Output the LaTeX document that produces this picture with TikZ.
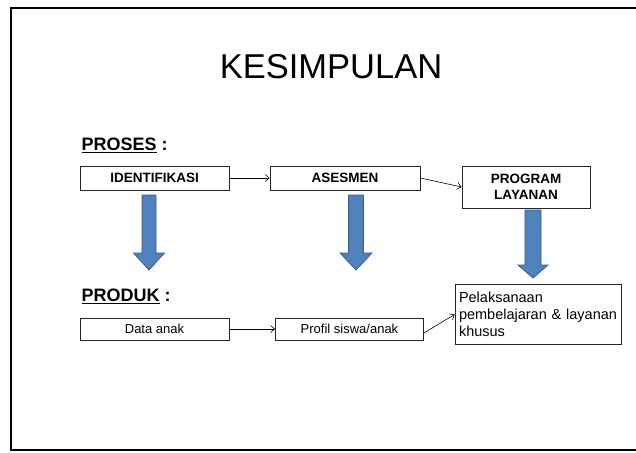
\documentclass[tikz,border=0pt]{standalone}
\usepackage{fontspec}
\setmainfont{Liberation Sans}
\usetikzlibrary{arrows.meta, positioning}
\usepackage{xcolor}
\definecolor{arrowblue}{HTML}{4F81BD}
\definecolor{arrowedge}{HTML}{385D8A}

\begin{document}
\begin{tikzpicture}[
x=1pt, y=-1pt,
box/.style={draw=black!85,
line width=0.8pt,
rectangle,
inner sep=2pt,
align=center,
font=\fontsize{13}{16}\selectfont},
arrow/.style={-{Straight Barb[length=4pt, width=7pt]}, line width=0.6pt},
bigarrow/.style={draw=arrowedge, fill=arrowblue, line width=0.8pt, line join=miter},
heading/.style={anchor=west, font=\fontsize{18}{21}\selectfont\bfseries}
]

\useasboundingbox (0,0) rectangle (636,452);
\draw[line width=2pt] (11,8) rectangle (645,450);

\node[font=\fontsize{34.5}{40}\selectfont] (title) at (331,67) {KESIMPULAN};

\node[heading] (proses) at (78,145) {\underline{PROSES} :};
\node[heading] (produk) at (78,296) {\underline{PRODUK} :};

\node[box, font=\fontsize{13.5}{16}\selectfont\bfseries, minimum width=149, minimum height=24] (ident) at (154.5,178) {IDENTIFIKASI};
\node[box, font=\fontsize{13.5}{16}\selectfont\bfseries, minimum width=150, minimum height=24] (asesmen) at (345,178) {ASESMEN};
\node[box, font=\fontsize{13.5}{16}\selectfont\bfseries, minimum width=128, minimum height=42] (program) at (526,187) {PROGRAM\\LAYANAN};

\node[box, minimum width=149, minimum height=22] (data) at (154.5,329) {Data anak};
\node[box, minimum width=148, minimum height=22] (profil) at (349.5,329) {Profil siswa/anak};
\node[box, align=left, text width=158, inner sep=4pt, minimum height=60, font=\fontsize{14.5}{17}\selectfont] (pelaksanaan) at (538,314.5) {Pelaksanaan\\pembelajaran \& layanan\\khusus};

\draw[arrow] (ident) -- (asesmen);
\draw[arrow] (asesmen.east) -- (program.west);
\draw[arrow] (data) -- (profil);
\draw[arrow] ([yshift=-4pt]profil.east) -- (pelaksanaan.west);

% blue arrows from proses to produk
\draw[bigarrow] (142,195) -- (156,195) -- (156,253) -- (164.5,253) -- (149,270) -- (133.5,253) -- (142,253) -- cycle;
\draw[bigarrow] (348.5,195) -- (363.5,195) -- (363.5,253) -- (372,253) -- (356,270) -- (340,253) -- (348.5,253) -- cycle;
\draw[bigarrow] (525,210) -- (541,210) -- (541,265) -- (548,265) -- (533,278) -- (518,265) -- (525,265) -- cycle;

\end{tikzpicture}
\end{document}
